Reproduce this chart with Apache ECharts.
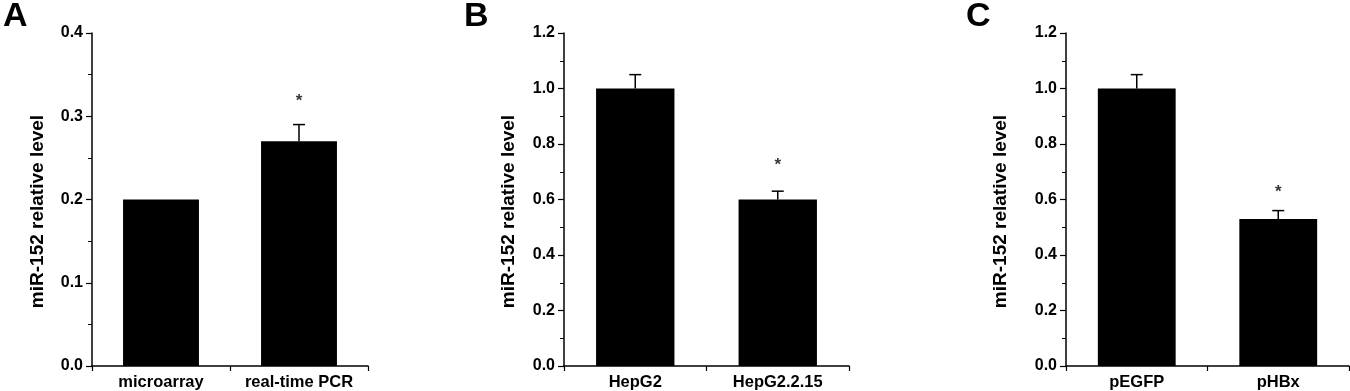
<!DOCTYPE html>
<html>
<head>
<meta charset="utf-8">
<script src="https://cdn.jsdelivr.net/npm/echarts@6/dist/echarts.min.js"></script>
<style>
html,body{margin:0;padding:0;background:#fff;}
#chart{width:1350px;height:391px;}
</style>
</head>
<body>
<div id="chart"></div>
<script>
// ---- data ----
const panelLetters = ['A', 'B', 'C'];
const catsA = ['microarray', 'real-time PCR'];
const catsB = ['HepG2', 'HepG2.2.15'];
const catsC = ['pEGFP', 'pHBx'];
const valuesA = [0.2, 0.27];
const valuesB = [1.0, 0.6];
const valuesC = [1.0, 0.53];
const errA = [0, 0.02];
const errB = [0.05, 0.03];
const errC = [0.05, 0.03];
const starA = [null, 0.318];
const starB = [null, 0.722];
const starC = [null, 0.627];
const yMaxA = 0.4, yIntA = 0.1;
const yMaxB = 1.2, yIntB = 0.2;
const yMaxC = 1.2, yIntC = 0.2;
const yName = 'miR-152 relative level';

const FONT = '"Liberation Sans", Arial, sans-serif';
const panels = [
  {cats: catsA, vals: valuesA, err: errA, star: starA, max: yMaxA, interval: yIntA,
   grid: {left: 92, top: 33, width: 276, height: 335}, nameGap: 45},
  {cats: catsB, vals: valuesB, err: errB, star: starB, max: yMaxB, interval: yIntB,
   grid: {left: 564, top: 33, width: 285, height: 334}, nameGap: 46},
  {cats: catsC, vals: valuesC, err: errC, star: starC, max: yMaxC, interval: yIntC,
   grid: {left: 1066, top: 33, width: 283, height: 333}, nameGap: 56}
];

const grid = [], xAxis = [], yAxis = [], series = [];
panels.forEach((p, i) => {
  grid.push(Object.assign({containLabel: false}, p.grid));
  xAxis.push({
    type: 'category', gridIndex: i, data: p.cats,
    axisLine: {lineStyle: {color: '#000', width: 1.5}},
    axisTick: {show: true, length: 5, interval: 0, lineStyle: {color: '#000', width: 1.2}},
    axisLabel: {color: '#000', fontWeight: 'bold', fontSize: 16.5, fontFamily: FONT, margin: 8,
      interval: 0, hideOverlap: false}
  });
  yAxis.push({
    type: 'value', gridIndex: i, min: 0, max: p.max, interval: p.interval,
    name: yName, nameLocation: 'middle', nameGap: p.nameGap, nameRotate: 90,
    nameTextStyle: {color: '#000', fontWeight: 'bold', fontSize: 19, fontFamily: FONT,
      padding: [0, 24, 0, 0]},
    axisLine: {show: true, lineStyle: {color: '#000', width: 1.5}},
    axisTick: {show: true, length: 6, lineStyle: {color: '#000', width: 1.2}},
    minorTick: {show: true, splitNumber: 2, length: 4, lineStyle: {color: '#000', width: 1}},
    splitLine: {show: false},
    axisLabel: {color: '#000', fontWeight: 'bold', fontSize: 16, fontFamily: FONT, margin: 9,
      formatter: v => v.toFixed(1)}
  });
  series.push({
    type: 'bar', xAxisIndex: i, yAxisIndex: i, data: p.vals, barWidth: '55%',
    itemStyle: {color: '#000'}, silent: true
  });
  series.push({
    type: 'custom', xAxisIndex: i, yAxisIndex: i,
    data: p.vals.map((v, k) => [k, v, p.err[k]]),
    renderItem: function (params, api) {
      const e = api.value(2);
      if (!e) return null;
      const base = api.coord([api.value(0), api.value(1)]);
      const top = api.coord([api.value(0), api.value(1) + e]);
      const style = {stroke: '#000', lineWidth: 1.5};
      return {type: 'group', children: [
        {type: 'line', shape: {x1: base[0], y1: base[1], x2: top[0], y2: top[1]}, style: style},
        {type: 'line', shape: {x1: top[0] - 6, y1: top[1], x2: top[0] + 6, y2: top[1]}, style: style}
      ]};
    },
    z: 3
  });
  series.push({
    type: 'scatter', xAxisIndex: i, yAxisIndex: i,
    data: p.star.map((s, k) => [k, s]).filter(d => d[1] !== null),
    symbolSize: 1, itemStyle: {color: 'rgba(0,0,0,0)'},
    label: {show: true, position: 'inside', formatter: '*', color: '#000', fontSize: 17,
      fontWeight: 'bold', fontFamily: FONT}
  });
});

const chart = echarts.init(document.getElementById('chart'), null, {renderer: 'canvas'});
chart.setOption({
  animation: false,
  backgroundColor: '#fff',
  title: [
    {text: panelLetters[0], left: -2, top: -5},
    {text: panelLetters[1], left: 459, top: -5},
    {text: panelLetters[2], left: 961, top: -5}
  ].map(t => Object.assign(t, {textStyle: {color: '#000', fontWeight: 'bold', fontSize: 34, fontFamily: FONT}})),
  grid: grid, xAxis: xAxis, yAxis: yAxis, series: series
});
</script>
</body>
</html>
